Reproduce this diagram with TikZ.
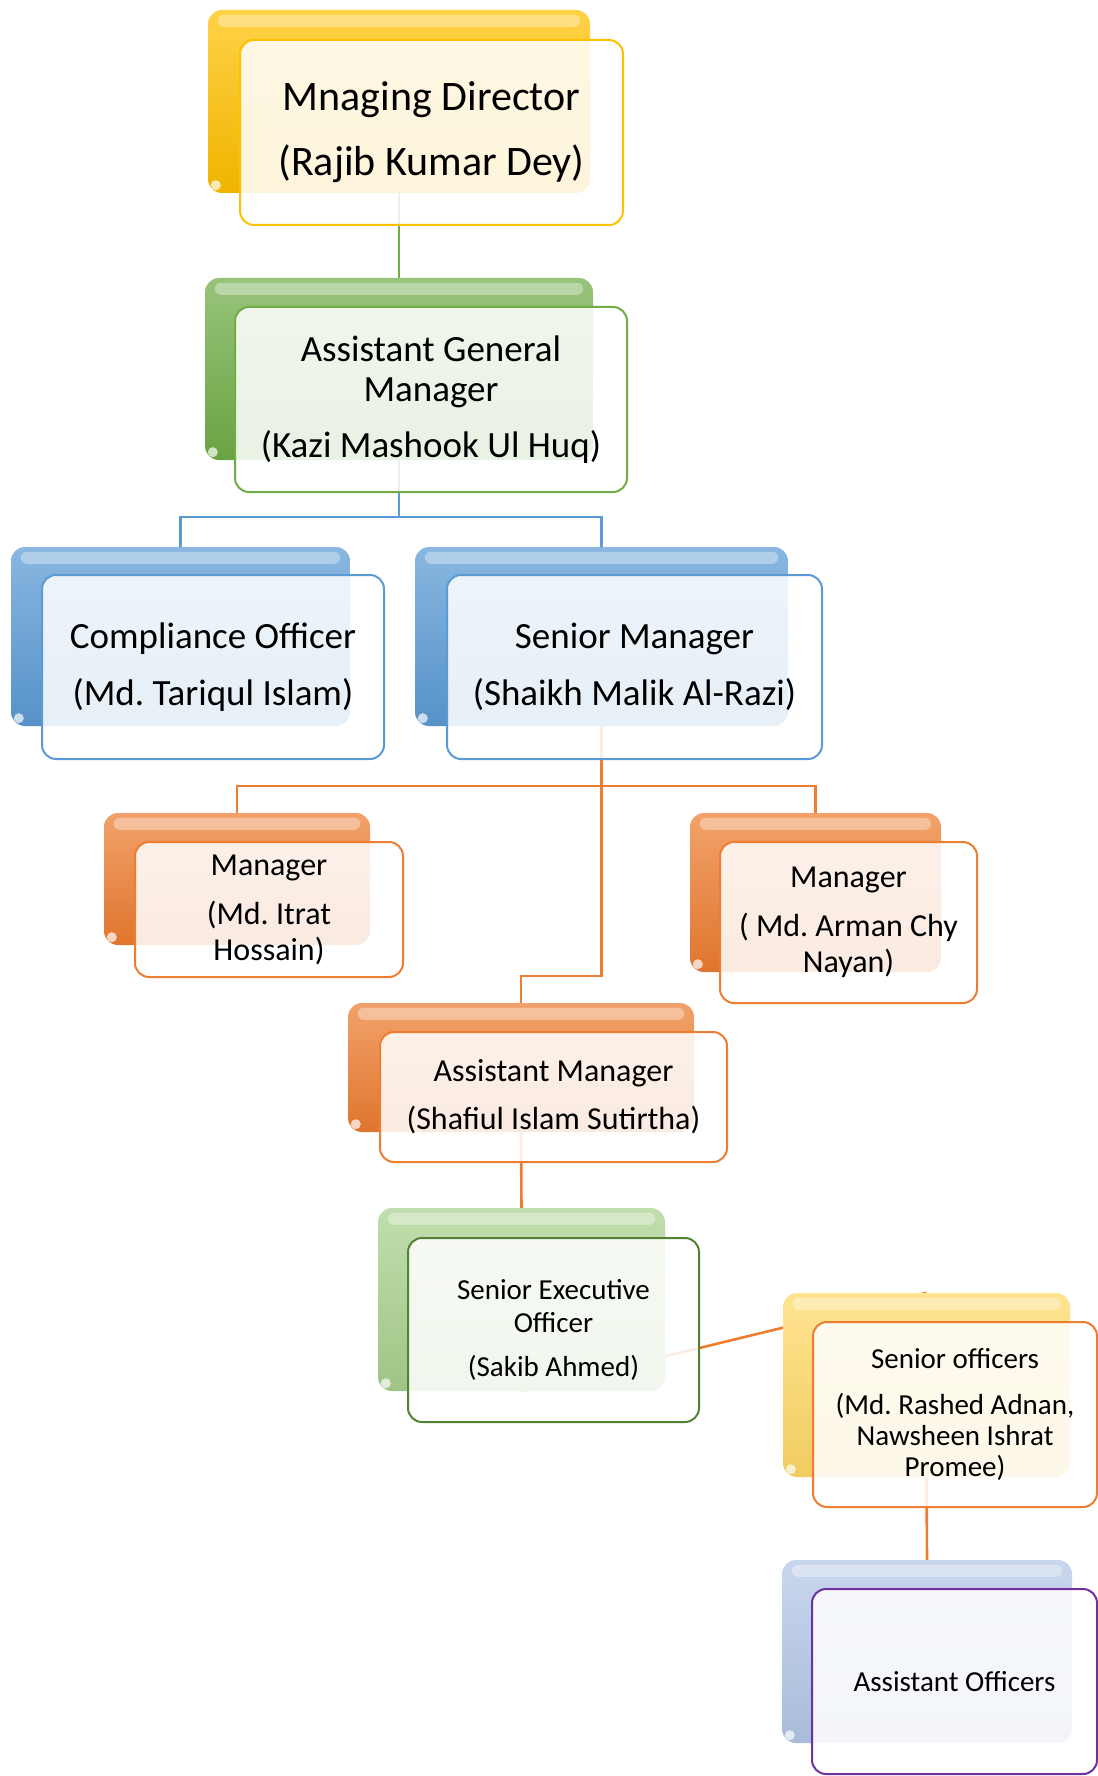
\documentclass[tikz,border=0pt]{standalone}
\usepackage{fontspec}
\setmainfont{Carlito}
\frenchspacing
\pgfdeclarelayer{paper}
\pgfdeclarelayer{bg}
\pgfsetlayers{paper,bg,main}

\definecolor{cgold}{HTML}{FFC000}
\definecolor{cgreen}{HTML}{70AD47}
\definecolor{cblue}{HTML}{5B9BD5}
\definecolor{corange}{HTML}{ED7D31}
\definecolor{clightgreen}{HTML}{A9D18E}
\definecolor{cdarkgreen}{HTML}{548235}
\definecolor{cpaleyellow}{HTML}{FFD966}
\definecolor{cpaleblue}{HTML}{B4C7E7}
\definecolor{cpurple}{HTML}{7030A0}

\tikzset{
  backbox/.style={rounded corners=14pt, inner sep=0pt, draw=none,
    top color=#1!72!white, bottom color=#1!94!black},
  frontbox/.style={rounded corners=14pt, inner sep=0pt, draw=#1, line width=2pt,
    fill=white, fill opacity=.86, text opacity=1, align=center},
  link/.style={line width=2.6pt, draw=#1},
}

% glossy highlight on a back card
\newcommand\glosscard[1]{%
  \fill[white, opacity=.35, rounded corners=6pt]
    ([xshift=10pt,yshift=-5pt]#1.north west) rectangle ([xshift=-10pt,yshift=-17pt]#1.north east);
  \fill[white, opacity=.7] ([xshift=8pt,yshift=8pt]#1.south west) circle (5pt);
}

\begin{document}
\begin{tikzpicture}[x=1pt, y=-1pt]
\begin{pgfonlayer}{paper}
\fill[white] (0,0) rectangle (1097,1776);
\end{pgfonlayer}
\useasboundingbox (0,0) rectangle (1097,1776);

% Managing Director
\node[backbox=cgold, minimum width=382pt, minimum height=183pt] (mdb) at (399,101.5) {};
\glosscard{mdb}
\node[frontbox=cgold, minimum width=383pt, minimum height=185pt,
  font=\fontsize{42}{46}\selectfont] (mdf) at (431.5,132.5)
  {Mnaging Director\\[19pt](Rajib Kumar Dey)};

% Assistant General Manager
\node[backbox=cgreen, minimum width=388pt, minimum height=182pt] (agmb) at (399,369) {};
\glosscard{agmb}
\node[frontbox=cgreen, minimum width=392pt, minimum height=185pt,
  font=\fontsize{37}{40}\selectfont] (agmf) at (431,399.5)
  {Assistant General\\Manager\\[16pt](Kazi Mashook Ul Huq)};

% Compliance Officer
\node[backbox=cblue, minimum width=339pt, minimum height=179pt] (cob) at (180.5,636.5) {};
\glosscard{cob}
\node[frontbox=cblue, minimum width=342pt, minimum height=184pt,
  font=\fontsize{37}{40}\selectfont] (cof) at (213,667)
  {Compliance Officer\\[17pt](Md. Tariqul Islam)};

% Senior Manager
\node[backbox=cblue, minimum width=373pt, minimum height=179pt] (smb) at (601.5,636.5) {};
\glosscard{smb}
\node[frontbox=cblue, minimum width=375pt, minimum height=184pt,
  font=\fontsize{37}{40}\selectfont] (smf) at (634.5,667)
  {Senior Manager\\[17pt](Shaikh Malik Al-Razi)};

% Manager (left)
\node[backbox=corange, minimum width=266pt, minimum height=132pt] (mab) at (237,879) {};
\glosscard{mab}
\node[frontbox=corange, minimum width=268pt, minimum height=135pt,
  font=\fontsize{32}{36}\selectfont] (maf) at (269,909.5)
  {Manager\\[13pt](Md. Itrat\\Hossain)};

% Manager (right)
\node[backbox=corange, minimum width=251pt, minimum height=159pt] (mbb) at (815.5,892.5) {};
\glosscard{mbb}
\node[frontbox=corange, minimum width=257pt, minimum height=161pt,
  font=\fontsize{32}{36}\selectfont] (mbf) at (848.5,922.5)
  {Manager\\[13pt]( Md. Arman Chy\\Nayan)};

% Assistant Manager
\node[backbox=corange, minimum width=346pt, minimum height=129pt] (amb) at (521,1067.5) {};
\glosscard{amb}
\node[frontbox=corange, minimum width=347pt, minimum height=130pt,
  font=\fontsize{32}{36}\selectfont] (amf) at (553.5,1097)
  {Assistant Manager\\[12pt](Shafiul Islam Sutirtha)};

% Senior Executive Officer
\node[backbox=clightgreen, minimum width=287pt, minimum height=183pt] (seob) at (521.5,1299.5) {};
\glosscard{seob}
\node[frontbox=cdarkgreen, minimum width=291pt, minimum height=184pt,
  font=\fontsize{29}{33}\selectfont] (seof) at (553.5,1330)
  {Senior Executive\\Officer\\[11pt](Sakib Ahmed)};

% Senior officers
\node[backbox=cpaleyellow, minimum width=287pt, minimum height=184pt] (sob) at (926.5,1385) {};
\glosscard{sob}
\node[frontbox=corange, minimum width=284pt, minimum height=185pt,
  font=\fontsize{29}{31}\selectfont] (sof) at (955,1414.5)
  {Senior officers\\[15pt](Md. Rashed Adnan,\\Nawsheen Ishrat\\Promee)};

% Assistant Officers
\node[backbox=cpaleblue, minimum width=290pt, minimum height=183pt] (aob) at (927,1651.5) {};
\glosscard{aob}
\node[frontbox=cpurple, minimum width=285pt, minimum height=185pt,
  font=\fontsize{29}{33}\selectfont] (aof) at (954.5,1681.5)
  {Assistant Officers};

% elbow junctions
\coordinate (jagm) at (399,517);
\coordinate (jsm) at (601.5,786);
\coordinate (jam) at (601.5,976);

% reporting lines, behind the cards
\begin{pgfonlayer}{bg}
\draw[link=cgreen] (mdb.south) -- (agmb.north);
\draw[link=cblue] (agmb.south) -- (jagm) -| (cob.north);
\draw[link=cblue] (jagm) -| (smb.north);
\draw[link=corange] (smb.south) -- (jsm) -| (mab.north);
\draw[link=corange] (jsm) -| (mbb.north);
\draw[link=corange] (jsm) -- (jam) -| (amb.north);
\draw[link=corange] (amb.south) -- (seob.north);
\draw[link=corange] (seob.south) -- (sob.north);
\draw[link=corange] (sob.south) -- (aob.north);
\end{pgfonlayer}
\end{tikzpicture}
\end{document}
